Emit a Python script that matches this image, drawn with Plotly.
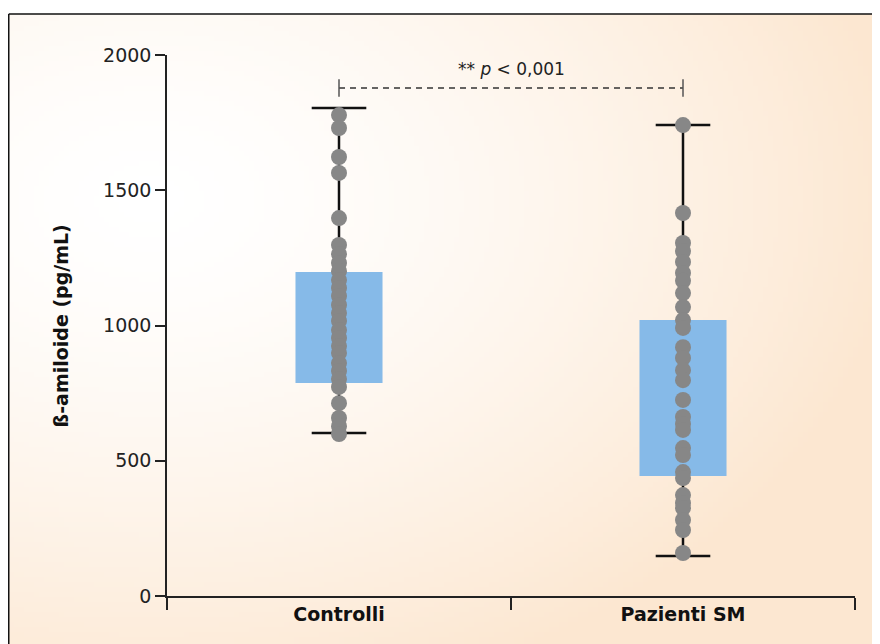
import base64, struct, zlib
import plotly.graph_objects as go

# ---------------- data ----------------
categories = ["Controlli", "Pazienti SM"]
q1 = [787, 444]
median = [991, 713]
q3 = [1198, 1020]
lower_fence = [603, 148]
upper_fence = [1804, 1741]

controlli_points = [1778, 1730, 1623, 1564, 1397, 1298, 1264, 1231, 1201, 1168,
                    1139, 1109, 1076, 1046, 1017, 983, 954, 924, 898, 861,
                    832, 802, 773, 713, 658, 628, 599]
pazienti_points = [1741, 1416, 1305, 1275, 1235, 1194, 1165, 1120, 1068, 1020,
                   991, 920, 880, 835, 798, 725, 662, 636, 614, 547,
                   521, 458, 436, 373, 344, 325, 281, 244, 159]

bracket_value = 1878
p_label = "** <i>p</i> &lt; 0,001"
y_title = "ß-amiloide (pg/mL)"
y_ticks = [0, 500, 1000, 1500, 2000]

FONT = "DejaVu Sans"

# ---------------- background gradient image ----------------
def make_png(w, h):
    peach = (252, 231, 209)
    white = (255, 255, 255)
    raw = bytearray()
    for j in range(h):
        raw.append(0)
        for i in range(w):
            px = 7 + (i + 0.5) / w * 873
            py = 14 + (j + 0.5) / h * 630
            dx = (px - 150) / 750
            dy = (py - 200) / 520
            t = min(1.0, (dx * dx + dy * dy) ** 0.5) ** 1.5
            for k in range(3):
                raw.append(int(round(white[k] * (1 - t) + peach[k] * t)))
    def chunk(tag, data):
        c = struct.pack(">I", len(data)) + tag + data
        return c + struct.pack(">I", zlib.crc32(tag + data) & 0xffffffff)
    png = b"\x89PNG\r\n\x1a\n"
    png += chunk(b"IHDR", struct.pack(">IIBBBBB", w, h, 8, 2, 0, 0, 0))
    png += chunk(b"IDAT", zlib.compress(bytes(raw), 9))
    png += chunk(b"IEND", b"")
    return "data:image/png;base64," + base64.b64encode(png).decode()

bg = make_png(175, 126)

# ---------------- figure ----------------
fig = go.Figure()

# boxes (IQR)
fig.add_trace(go.Bar(
    x=categories, base=q1, y=[b - a for a, b in zip(q1, q3)],
    width=0.253, marker=dict(color="#86BAE8", line=dict(width=0)),
    hoverinfo="skip"))

# whiskers (outside the box)
wx, wy = [], []
for c, a, b, lo, hi in zip(categories, q1, q3, lower_fence, upper_fence):
    wx += [c, c, None, c, c, None]
    wy += [b, hi, None, lo, a, None]
fig.add_trace(go.Scatter(x=wx, y=wy, mode="lines",
                         line=dict(color="#111111", width=2.5),
                         hoverinfo="skip", cliponaxis=False))

# whisker caps
fig.add_trace(go.Scatter(
    x=categories + categories, y=upper_fence + lower_fence, mode="markers",
    marker=dict(symbol="line-ew", size=39, line=dict(color="#111111", width=2.5)),
    hoverinfo="skip", cliponaxis=False))

# medians
fig.add_trace(go.Scatter(
    x=categories, y=median, mode="markers",
    marker=dict(size=1, color="rgba(0,0,0,0)"),
    error_x=dict(type="constant", value=0.1265, width=0, thickness=2.5, color="#1565B0"),
    hoverinfo="skip"))

# points
fig.add_trace(go.Scatter(
    x=[categories[0]] * len(controlli_points) + [categories[1]] * len(pazienti_points),
    y=controlli_points + pazienti_points, mode="markers",
    marker=dict(size=16, color="#878787", line=dict(width=0)),
    cliponaxis=False))

# significance bracket
fig.add_trace(go.Scatter(
    x=categories, y=[bracket_value, bracket_value], mode="lines",
    line=dict(color="#333333", width=1.3, dash="6px,5px"),
    hoverinfo="skip", cliponaxis=False))
bx, by = [], []
for c in categories:
    bx += [c, c, None]
    by += [bracket_value + 32, bracket_value - 32, None]
fig.add_trace(go.Scatter(x=bx, y=by, mode="lines",
                         line=dict(color="#555555", width=1.5),
                         hoverinfo="skip", cliponaxis=False))

fig.add_annotation(x=0.5, y=bracket_value, xref="x", yref="y", yshift=19,
                   text=p_label, showarrow=False,
                   font=dict(family=FONT, size=17, color="#222222"))

fig.add_annotation(x=-0.173, y=0.5, xref="paper", yref="paper",
                   text="<b>" + y_title + "</b>", textangle=-90, showarrow=False,
                   font=dict(family=FONT, size=19, color="#111111"))

# frame lines (top and left)
fig.add_shape(type="line", xref="paper", yref="paper",
              x0=-0.2300, x1=1.1, y0=1.0758, y1=1.0758,
              line=dict(color="#111111", width=1.5))
fig.add_shape(type="line", xref="paper", yref="paper",
              x0=-0.2300, x1=-0.2300, y0=1.0758, y1=-0.2,
              line=dict(color="#111111", width=1.5))

fig.add_layout_image(dict(source=bg, xref="paper", yref="paper",
                          x=-0.2326, y=1.0758, sizex=1.2689, sizey=1.1645,
                          sizing="stretch", layer="below", xanchor="left", yanchor="top"))

# the page places the figure 8px from the top-left corner
fig.update_layout(
    width=872, height=636,
    margin=dict(l=159, r=25, t=47, b=48),
    paper_bgcolor="white", plot_bgcolor="rgba(0,0,0,0)",
    showlegend=False, barmode="overlay",
    font=dict(family=FONT, color="#222222"),
    xaxis=dict(type="category", categoryorder="array", categoryarray=categories,
               range=[-0.5, 1.5], showline=True, linecolor="#222222", linewidth=1.5,
               ticks="outside", ticklen=12, tickwidth=1.5, tickcolor="#222222",
               tickson="boundaries", showgrid=False, zeroline=False,
               tickfont=dict(family=FONT, size=19, color="#111111", weight="bold")),
    yaxis=dict(range=[0, 2000], tickvals=y_ticks, showline=True, linecolor="#222222",
               linewidth=1.5, ticks="outside", ticklen=10, tickwidth=1.5,
               tickcolor="#222222", showgrid=False, zeroline=False,
               tickfont=dict(family=FONT, size=19, color="#222222")),
)

fig.write_html("out.html")
